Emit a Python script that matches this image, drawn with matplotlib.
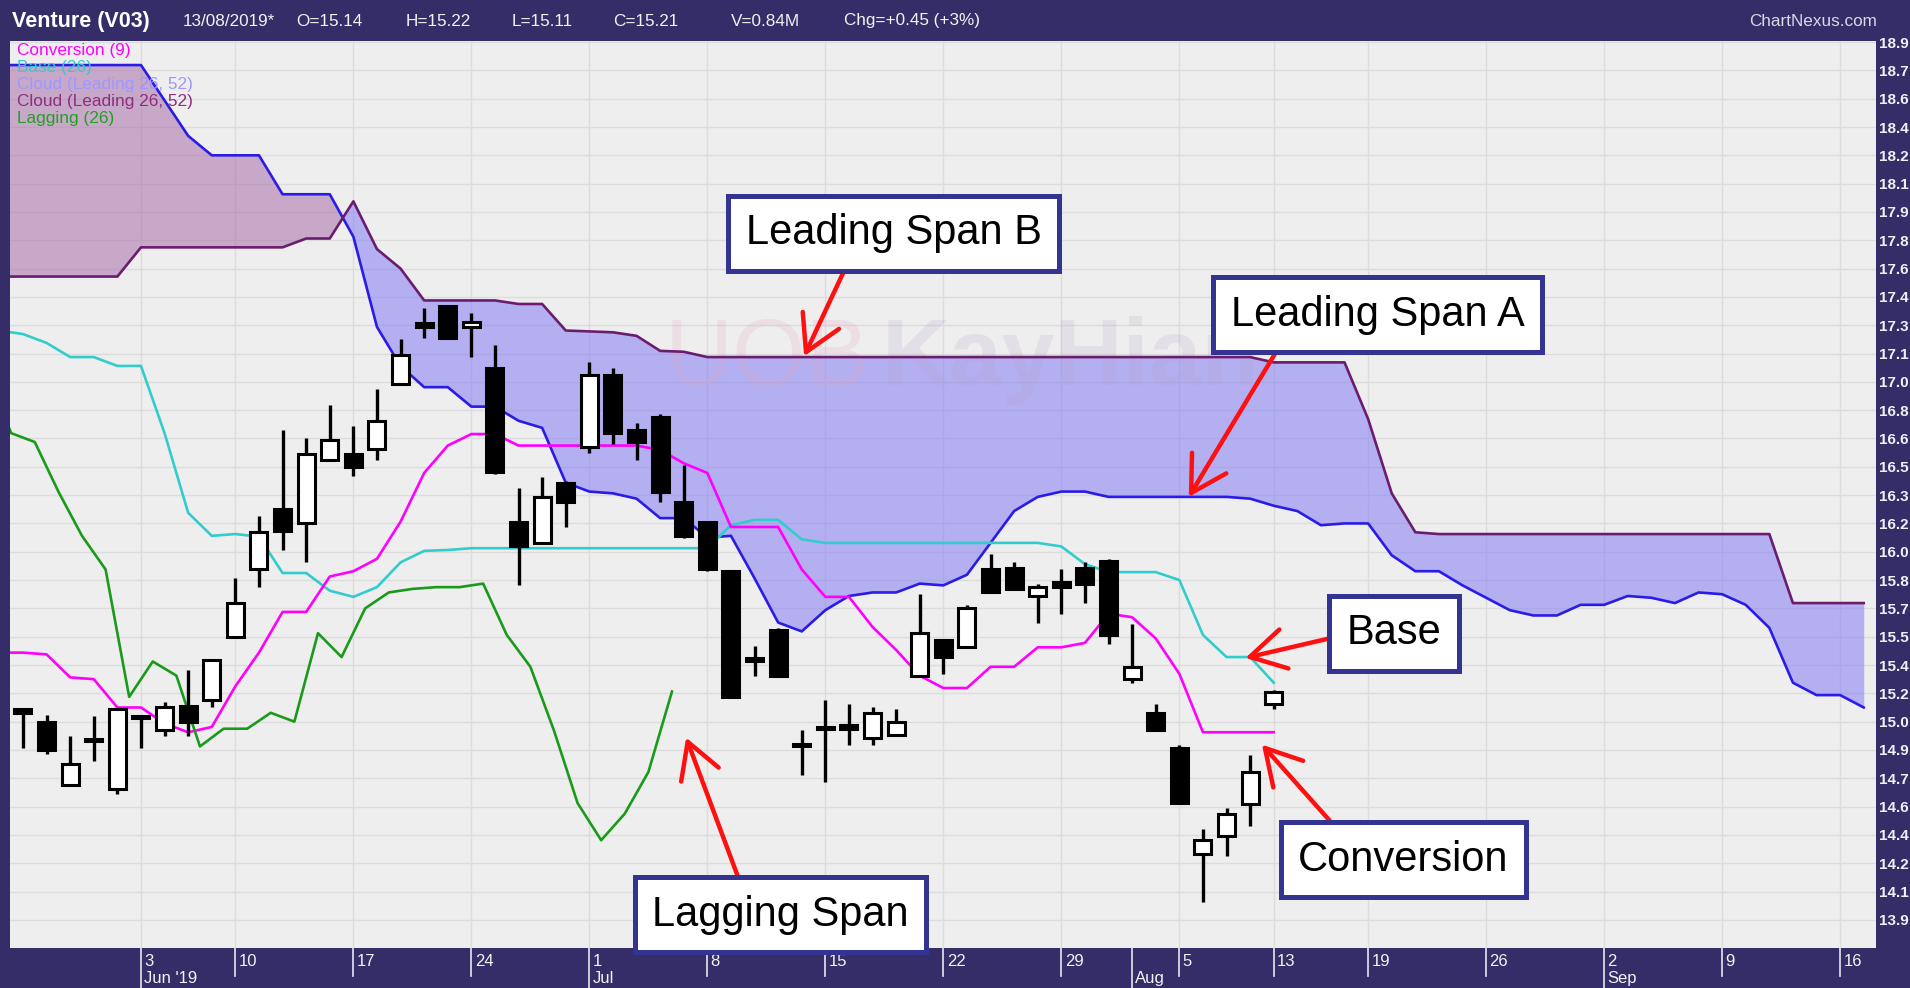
import matplotlib

matplotlib.use("Agg")
import matplotlib.pyplot as plt
from matplotlib.patches import Rectangle
import numpy as np

# ---- data (bar index 0 = 27 May 2019, one step per trading day) ----
OPEN = [15.11, 15.04, 14.68, 14.93, 14.66, 15.07, 14.99, 15.13, 15.16, 15.52,
        15.90, 16.24, 16.16, 16.52, 16.55, 16.58, 16.95, 17.29, 17.39, 17.27,
        17.04, 16.17, 16.05, 16.39, 16.59, 17.00, 16.69, 16.76, 16.28, 16.17,
        15.89, 15.40, 15.56, 14.91, 15.01, 15.02, 14.95, 14.965, 15.30, 15.50,
        15.46, 15.90, 15.91, 15.75, 15.83, 15.91, 15.95, 15.28, 15.09, 14.89,
        14.29, 14.395, 14.575, 15.14]
HIGH = [15.11, 15.08, 14.96, 15.07, 15.11, 15.07, 15.15, 15.33, 15.39, 15.85,
        16.20, 16.69, 16.64, 16.83, 16.71, 16.92, 17.20, 17.38, 17.39, 17.35,
        17.17, 16.36, 16.42, 16.40, 17.07, 17.04, 16.73, 16.78, 16.49, 16.17,
        15.89, 15.47, 15.57, 14.99, 15.16, 15.14, 15.12, 15.11, 15.76, 15.50,
        15.70, 15.99, 15.94, 15.82, 15.90, 15.94, 15.96, 15.59, 15.14, 14.91,
        14.435, 14.55, 14.85, 15.22]
LOW = [14.89, 14.86, 14.68, 14.82, 14.63, 14.89, 14.96, 14.96, 15.12, 15.52,
       15.80, 16.01, 15.94, 16.52, 16.43, 16.52, 16.94, 17.21, 17.21, 17.10,
       16.44, 15.81, 16.05, 16.14, 16.56, 16.61, 16.52, 16.28, 16.08, 15.89,
       15.18, 15.30, 15.30, 14.74, 14.70, 14.91, 14.91, 14.965, 15.30, 15.31,
       15.46, 15.77, 15.79, 15.60, 15.65, 15.71, 15.48, 15.26, 14.99, 14.58,
       14.02, 14.28, 14.45, 15.11]
CLOSE = [15.09, 14.88, 14.80, 14.93, 15.11, 15.06, 15.12, 15.04, 15.39, 15.71,
         16.11, 16.12, 16.55, 16.63, 16.48, 16.74, 17.11, 17.27, 17.21, 17.30,
         16.45, 16.03, 16.31, 16.28, 17.00, 16.67, 16.62, 16.34, 16.09, 15.90,
         15.18, 15.38, 15.30, 14.90, 15.00, 15.00, 15.09, 15.04, 15.54, 15.405,
         15.68, 15.77, 15.79, 15.80, 15.80, 15.82, 15.53, 15.35, 14.99, 14.58,
         14.37, 14.52, 14.755, 15.21]

# indicator lines start one bar before the first candle (index -1)
CONVERSION = [15.43, 15.43, 15.42, 15.29, 15.28, 15.12, 15.12, 15.03, 14.98, 15.01,
              15.24, 15.43, 15.66, 15.66, 15.86, 15.89, 15.96, 16.17, 16.445, 16.60,
              16.665, 16.665, 16.60, 16.60, 16.60, 16.60, 16.60, 16.60, 16.575, 16.50,
              16.445, 16.14, 16.14, 16.14, 15.90, 15.745, 15.745, 15.575, 15.445, 15.30,
              15.23, 15.23, 15.35, 15.35, 15.46, 15.46, 15.485, 15.65, 15.63, 15.51,
              15.31, 14.98, 14.98, 14.98, 14.98]
BASE = [17.25, 17.23, 17.18, 17.10, 17.10, 17.05, 17.05, 16.67, 16.22, 16.09,
        16.10, 16.085, 15.88, 15.88, 15.78, 15.745, 15.80, 15.94, 16.005, 16.01,
        16.02, 16.02, 16.02, 16.02, 16.02, 16.02, 16.02, 16.02, 16.02, 16.02,
        16.02, 16.15, 16.18, 16.18, 16.07, 16.05, 16.05, 16.05, 16.05, 16.05,
        16.05, 16.05, 16.05, 16.05, 16.05, 16.03, 15.93, 15.885, 15.885, 15.885,
        15.84, 15.53, 15.405, 15.405, 15.26]
SPAN_A = [18.75, 18.75, 18.75, 18.75, 18.75, 18.75, 18.75, 18.55, 18.35, 18.24,
          18.24, 18.24, 18.02, 18.02, 18.02, 17.78, 17.27, 17.05, 16.93, 16.93,
          16.82, 16.82, 16.74, 16.70, 16.39, 16.34, 16.33, 16.30, 16.19, 16.19,
          16.08, 16.09, 15.85, 15.60, 15.55, 15.67, 15.75, 15.77, 15.77, 15.82,
          15.81, 15.87, 16.05, 16.23, 16.31, 16.34, 16.34, 16.31, 16.31, 16.31,
          16.31, 16.31, 16.31, 16.30, 16.26, 16.23, 16.15, 16.16, 16.16, 15.98,
          15.89, 15.89, 15.81, 15.74, 15.67, 15.64, 15.64, 15.70, 15.70, 15.75,
          15.74, 15.71, 15.77, 15.76, 15.70, 15.57, 15.26, 15.19, 15.19, 15.12]
SPAN_B = [17.555, 17.555, 17.555, 17.555, 17.555, 17.555, 17.72, 17.72, 17.72, 17.72,
          17.72, 17.72, 17.72, 17.77, 17.77, 17.98, 17.71, 17.60, 17.42, 17.42,
          17.42, 17.42, 17.40, 17.40, 17.25, 17.245, 17.24, 17.22, 17.135, 17.13,
          17.10, 17.10, 17.10, 17.10, 17.10, 17.10, 17.10, 17.10, 17.10, 17.10,
          17.10, 17.10, 17.10, 17.10, 17.10, 17.10, 17.10, 17.10, 17.10, 17.10,
          17.10, 17.10, 17.10, 17.10, 17.07, 17.07, 17.07, 17.07, 16.75, 16.33,
          16.11, 16.10, 16.10, 16.10, 16.10, 16.10, 16.10, 16.10, 16.10, 16.10,
          16.10, 16.10, 16.10, 16.10, 16.10, 16.10, 15.71, 15.71, 15.71, 15.71]
# lagging span, first value sits at index -1.5
LAGGING = [17.00, 16.67, 16.62, 16.34, 16.09, 15.90, 15.18, 15.38, 15.30, 14.90,
           15.00, 15.00, 15.09, 15.04, 15.54, 15.405, 15.68, 15.77, 15.79, 15.80,
           15.80, 15.82, 15.53, 15.35, 14.99, 14.58, 14.37, 14.52, 14.755, 15.21]

TICK_IDX = [5, 9, 14, 19, 24, 29, 34, 39, 44, 49, 53, 57, 62, 67, 72, 77]
TICK_LABELS = ["3", "10", "17", "24", "1", "8", "15", "22", "29", "5", "13",
               "19", "26", "2", "9", "16"]
MONTH_IDX = [5, 24, 47, 67]
MONTH_LABELS = ["Jun '19", "Jul", "Aug", "Sep"]

HEADER = ["13/08/2019*", "O=15.14", "H=15.22", "L=15.11", "C=15.21", "V=0.84M",
          "Chg=+0.45 (+3%)"]
HEADER_X = [183, 296, 406, 512, 613, 731, 844]

LEGEND = ["Conversion (9)", "Base (26)", "Cloud (Leading 26, 52)",
          "Cloud (Leading 26, 52)", "Lagging (26)"]
LEGEND_COLORS = ["#FF00FF", "#33CCCC", "#9C98FF", "#8E2E7E", "#22A022"]

W, H = 1910, 988
NAVY = "#342D68"
FONT = "Liberation Sans"

fig = plt.figure(figsize=(W / 100, H / 100), dpi=100, facecolor=NAVY)
ax = fig.add_axes([10 / W, (H - 948) / H, (1876 - 10) / W, (948 - 41) / H])
ax.set_facecolor("#EEEEEE")
for s in ax.spines.values():
    s.set_visible(False)

x_line = np.arange(len(CONVERSION)) - 1
x_cloud = np.arange(len(SPAN_A)) - 1
x_lag = np.arange(len(LAGGING)) - 1.5
span_a = np.array(SPAN_A)
span_b = np.array(SPAN_B)

# grid
yticks = 18.88 - 0.16 * np.arange(32)
for v in yticks:
    ax.axhline(v, color="#DCDCDC", lw=1.0, zorder=0)
for i in TICK_IDX:
    ax.axvline(i, color="#DCDCDC", lw=1.0, zorder=0)

# cloud
ax.fill_between(x_cloud, span_a, span_b, where=span_b >= span_a, interpolate=True,
                color="#837CF2", alpha=0.55, lw=0, zorder=1)
ax.fill_between(x_cloud, span_a, span_b, where=span_a > span_b, interpolate=True,
                color="#A96FA9", alpha=0.55, lw=0, zorder=1)

# watermark
ax.text(27.2, 17.08, "UOB", fontsize=68, color="#E3A8C6", alpha=0.22,
        family=FONT, va="center", ha="left", zorder=1.5)
ax.text(36.4, 17.08, "KayHian", fontsize=68, color="#B9A3C9", alpha=0.2,
        family=FONT, fontweight="bold", va="center", ha="left", zorder=1.5)

ax.plot(x_cloud, span_a, color="#2A1CE6", lw=1.9, zorder=3)
ax.plot(x_cloud, span_b, color="#6C1C6E", lw=1.9, zorder=3)
ax.plot(x_line, BASE, color="#33CCCC", lw=1.9, zorder=3)
ax.plot(x_line, CONVERSION, color="#FF00FF", lw=1.9, zorder=3)
ax.plot(x_lag, LAGGING, color="#1A9A1A", lw=1.9, zorder=3)

# candles
bw = 0.72
for i, (o, h, l, c) in enumerate(zip(OPEN, HIGH, LOW, CLOSE)):
    ax.vlines(i, l, h, color="black", lw=2.4, zorder=5)
    bottom = min(o, c)
    height = max(abs(c - o), 0.012)
    ax.add_patch(Rectangle((i - bw / 2, bottom), bw, height,
                           facecolor="white" if c >= o else "black",
                           edgecolor="black", lw=2.2, zorder=6))

ax.set_xlim(-0.55, 78.52)
ax.set_ylim(13.761, 18.886)

# right price axis
ax.yaxis.tick_right()
ax.set_yticks(yticks)
ax.set_yticklabels([f"{v:.1f}" for v in yticks])
ax.tick_params(axis="y", length=0, pad=2, labelcolor="#F0F0F4", labelsize=11)
for lab in ax.get_yticklabels():
    lab.set_fontweight("bold")
    lab.set_family(FONT)

# date axis drawn by hand
ax.set_xticks([])
trans = ax.get_xaxis_transform()
for i, lab in zip(TICK_IDX, TICK_LABELS):
    long_tick = i in MONTH_IDX
    ax.plot([i, i], [0, -0.046 if long_tick else -0.031], transform=trans,
            color="#E8E8F0", lw=1.2, clip_on=False)
    ax.text(i + 0.14, -0.015, lab, transform=trans, color="#F2F2F2", fontsize=12,
            family=FONT, va="center", ha="left")
for i, lab in zip(MONTH_IDX, MONTH_LABELS):
    if i not in TICK_IDX:
        ax.plot([i, i], [0, -0.046], transform=trans, color="#E8E8F0", lw=1.2,
                clip_on=False)
    ax.text(i + 0.14, -0.034, lab, transform=trans, color="#F2F2F2", fontsize=12,
            family=FONT, va="center", ha="left")

# legend
for k, (lab, col) in enumerate(zip(LEGEND, LEGEND_COLORS)):
    ax.text(0.004, 0.989 - k * 0.0187, lab, transform=ax.transAxes, color=col,
            fontsize=12.4, family=FONT, va="center", ha="left", zorder=8)

# header
fig.text(12 / W, 1 - 21 / H, "Venture (V03)", color="white", fontsize=15.5,
         fontweight="bold", family=FONT, va="center")
for txt, px in zip(HEADER, HEADER_X):
    fig.text(px / W, 1 - 21 / H, txt, color="#F2F2F2", fontsize=12.3,
             family=FONT, va="center")
fig.text(1877 / W, 1 - 21 / H, "ChartNexus.com", color="#D8D8E6", fontsize=12.3,
         family=FONT, va="center", ha="right")

# callouts: (text, arrow tip, box centre, arrow start on box)
CALLOUTS = [
    ("Leading Span B", (33.1, 17.105), (36.9, 17.80), (0.36, 0.0)),
    ("Leading Span A", (49.4, 16.31), (57.4, 17.34), (0.19, 0.0)),
    ("Base", (51.8, 15.40), (58.1, 15.54), (0.0, 0.47)),
    ("Conversion", (52.5, 14.91), (58.5, 14.26), (0.23, 1.0)),
    ("Lagging Span", (28.1, 14.95), (32.1, 13.95), (0.36, 1.0)),
]
for txt, tip, box, rel in CALLOUTS:
    ax.annotate(txt, xy=tip, xytext=box, textcoords="data", ha="center",
                va="center", fontsize=30, family=FONT, color="black",
                bbox=dict(boxstyle="square,pad=0.42", fc="white", ec="#333391", lw=3.6),
                arrowprops=dict(arrowstyle="->,head_length=0.7,head_width=0.4",
                                color="#FF1010", lw=3.2, relpos=rel, shrinkA=0,
                                shrinkB=0, mutation_scale=36),
                annotation_clip=False, zorder=10)

fig.savefig("out.png", dpi=100, facecolor=NAVY)
